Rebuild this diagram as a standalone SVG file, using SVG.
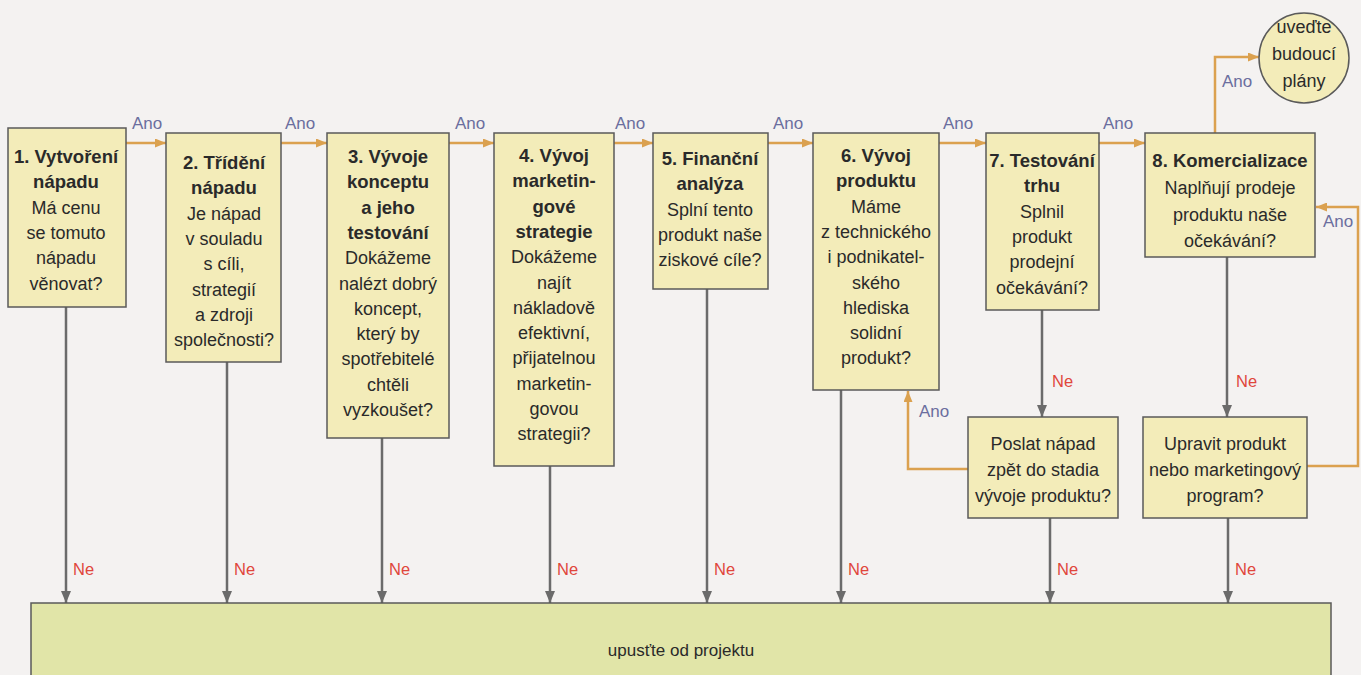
<svg xmlns="http://www.w3.org/2000/svg" width="1361" height="675" viewBox="0 0 1361 675">
<style>
  .box { fill: #f3ecb9; stroke: #5a5a5a; stroke-width: 1.5; }
  .bottom { fill: #e1e5a8; stroke: #5a5a5a; stroke-width: 1.5; }
  .t { font-family: "Liberation Sans", Arial, sans-serif; font-size: 18px; fill: #2a2a2a; text-anchor: middle; }
  .b { font-weight: bold; font-size: 18.5px; }
  .ano { font-family: "Liberation Sans", Arial, sans-serif; font-size: 17px; fill: #6b6e9e; }
  .ne { font-family: "Liberation Sans", Arial, sans-serif; font-size: 16.5px; fill: #e0463c; }
  .yes { fill: none; stroke: #dba14f; stroke-width: 2.5; marker-end: url(#ah-o); }
  .no { fill: none; stroke: #6b6b6b; stroke-width: 2.5; marker-end: url(#ah-g); }
</style>
<defs>
  <marker id="ah-o" markerUnits="userSpaceOnUse" markerWidth="11" markerHeight="9" refX="11" refY="4.5" orient="auto">
    <path d="M0,0 L11,4.5 L0,9 z" fill="#dba14f"/>
  </marker>
  <marker id="ah-g" markerUnits="userSpaceOnUse" markerWidth="12" markerHeight="10" refX="12" refY="5" orient="auto">
    <path d="M0,0 L12,5 L0,10 z" fill="#6b6b6b"/>
  </marker>
</defs>
<rect x="0" y="0" width="1361" height="675" fill="#f4f2f1"/>

<g id="connectors">
  <line class="yes" x1="126" y1="143" x2="166" y2="143"/>
  <line class="yes" x1="281" y1="143" x2="327" y2="143"/>
  <line class="yes" x1="449" y1="143" x2="494" y2="143"/>
  <line class="yes" x1="614" y1="143" x2="653" y2="143"/>
  <line class="yes" x1="768" y1="143" x2="813" y2="143"/>
  <line class="yes" x1="939" y1="143" x2="986" y2="143"/>
  <line class="yes" x1="1099" y1="143" x2="1145" y2="143"/>
  <polyline class="yes" points="1215,133 1215,57 1259,57"/>
  <polyline class="yes" points="968,469 908,469 908,391"/>
  <polyline class="yes" points="1307,466 1358,466 1358,207 1316,207"/>
  <line class="no" x1="66" y1="307" x2="66" y2="603"/>
  <line class="no" x1="227" y1="362" x2="227" y2="603"/>
  <line class="no" x1="382" y1="438" x2="382" y2="603"/>
  <line class="no" x1="550" y1="466" x2="550" y2="603"/>
  <line class="no" x1="707" y1="289" x2="707" y2="603"/>
  <line class="no" x1="841" y1="390" x2="841" y2="603"/>
  <line class="no" x1="1042" y1="310" x2="1042" y2="417"/>
  <line class="no" x1="1227" y1="257" x2="1227" y2="417"/>
  <line class="no" x1="1050" y1="518" x2="1050" y2="603"/>
  <line class="no" x1="1228" y1="518" x2="1228" y2="603"/>
  <text class="ano" x="132" y="129">Ano</text>
  <text class="ano" x="285" y="129">Ano</text>
  <text class="ano" x="455" y="129">Ano</text>
  <text class="ano" x="615" y="129">Ano</text>
  <text class="ano" x="773" y="129">Ano</text>
  <text class="ano" x="943" y="129">Ano</text>
  <text class="ano" x="1103" y="129">Ano</text>
  <text class="ano" x="1222" y="87">Ano</text>
  <text class="ano" x="1323" y="227">Ano</text>
  <text class="ano" x="919" y="417">Ano</text>
  <text class="ne" x="1052" y="387">Ne</text>
  <text class="ne" x="1236" y="387">Ne</text>
  <text class="ne" x="73" y="575">Ne</text>
  <text class="ne" x="234" y="575">Ne</text>
  <text class="ne" x="389" y="575">Ne</text>
  <text class="ne" x="557" y="575">Ne</text>
  <text class="ne" x="714" y="575">Ne</text>
  <text class="ne" x="848" y="575">Ne</text>
  <text class="ne" x="1057" y="575">Ne</text>
  <text class="ne" x="1235" y="575">Ne</text>
</g>

<g id="n1">
  <rect class="box" x="8" y="128" width="118" height="179"/>
  <text class="t" x="66" y="163"><tspan class="b">1. Vytvoření</tspan><tspan class="b" x="66" dy="25.3">nápadu</tspan><tspan x="66" dy="25.3">Má cenu</tspan><tspan x="66" dy="25.3">se tomuto</tspan><tspan x="66" dy="25.3">nápadu</tspan><tspan x="66" dy="25.3">věnovat?</tspan></text>
</g>
<g id="n2">
  <rect class="box" x="166" y="133" width="115" height="229"/>
  <text class="t" x="224" y="169"><tspan class="b">2. Třídění</tspan><tspan class="b" x="224" dy="25.3">nápadu</tspan><tspan x="224" dy="25.3">Je nápad</tspan><tspan x="224" dy="25.3">v souladu</tspan><tspan x="224" dy="25.3">s cíli,</tspan><tspan x="224" dy="25.3">strategií</tspan><tspan x="224" dy="25.3">a zdroji</tspan><tspan x="224" dy="25.3">společnosti?</tspan></text>
</g>
<g id="n3">
  <rect class="box" x="327" y="133" width="122" height="305"/>
  <text class="t" x="388" y="163"><tspan class="b">3. Vývoje</tspan><tspan class="b" x="388" dy="25.3">konceptu</tspan><tspan class="b" x="388" dy="25.3">a jeho</tspan><tspan class="b" x="388" dy="25.3">testování</tspan><tspan x="388" dy="25.3">Dokážeme</tspan><tspan x="388" dy="25.3">nalézt dobrý</tspan><tspan x="388" dy="25.3">koncept,</tspan><tspan x="388" dy="25.3">který by</tspan><tspan x="388" dy="25.3">spotřebitelé</tspan><tspan x="388" dy="25.3">chtěli</tspan><tspan x="388" dy="25.3">vyzkoušet?</tspan></text>
</g>
<g id="n4">
  <rect class="box" x="494" y="133" width="120" height="333"/>
  <text class="t" x="554" y="162"><tspan class="b">4. Vývoj</tspan><tspan class="b" x="554" dy="25.3">marketin-</tspan><tspan class="b" x="554" dy="25.3">gové</tspan><tspan class="b" x="554" dy="25.3">strategie</tspan><tspan x="554" dy="25.3">Dokážeme</tspan><tspan x="554" dy="25.3">najít</tspan><tspan x="554" dy="25.3">nákladově</tspan><tspan x="554" dy="25.3">efektivní,</tspan><tspan x="554" dy="25.3">přijatelnou</tspan><tspan x="554" dy="25.3">marketin-</tspan><tspan x="554" dy="25.3">govou</tspan><tspan x="554" dy="25.3">strategii?</tspan></text>
</g>
<g id="n5">
  <rect class="box" x="653" y="133" width="115" height="156"/>
  <text class="t" x="710" y="165"><tspan class="b">5. Finanční</tspan><tspan class="b" x="710" dy="25.3">analýza</tspan><tspan x="710" dy="25.3">Splní tento</tspan><tspan x="710" dy="25.3">produkt naše</tspan><tspan x="710" dy="25.3">ziskové cíle?</tspan></text>
</g>
<g id="n6">
  <rect class="box" x="813" y="133" width="126" height="257"/>
  <text class="t" x="876" y="162"><tspan class="b">6. Vývoj</tspan><tspan class="b" x="876" dy="25.3">produktu</tspan><tspan x="876" dy="25.3">Máme</tspan><tspan x="876" dy="25.3">z technického</tspan><tspan x="876" dy="25.3">i podnikatel-</tspan><tspan x="876" dy="25.3">ského</tspan><tspan x="876" dy="25.3">hlediska</tspan><tspan x="876" dy="25.3">solidní</tspan><tspan x="876" dy="25.3">produkt?</tspan></text>
</g>
<g id="n7">
  <rect class="box" x="986" y="133" width="113" height="177"/>
  <text class="t" x="1042" y="167"><tspan class="b">7. Testování</tspan><tspan class="b" x="1042" dy="25.3">trhu</tspan><tspan x="1042" dy="25.3">Splnil</tspan><tspan x="1042" dy="25.3">produkt</tspan><tspan x="1042" dy="25.3">prodejní</tspan><tspan x="1042" dy="25.3">očekávání?</tspan></text>
</g>
<g id="n8">
  <rect class="box" x="1145" y="133" width="170" height="124"/>
  <text class="t" x="1230" y="167"><tspan class="b">8. Komercializace</tspan><tspan x="1230" dy="27">Naplňují prodeje</tspan><tspan x="1230" dy="27">produktu naše</tspan><tspan x="1230" dy="26">očekávání?</tspan></text>
</g>
<g id="future">
  <circle class="box" cx="1304" cy="58" r="45"/>
  <text class="t" x="1304" y="33"><tspan>uveďte</tspan><tspan x="1304" dy="27">budoucí</tspan><tspan x="1304" dy="27">plány</tspan></text>
</g>
<g id="resend">
  <rect class="box" x="968" y="417" width="150" height="101"/>
  <text class="t" x="1043" y="450"><tspan>Poslat nápad</tspan><tspan x="1043" dy="26">zpět do stadia</tspan><tspan x="1043" dy="26">vývoje produktu?</tspan></text>
</g>
<g id="modify">
  <rect class="box" x="1143" y="417" width="164" height="101"/>
  <text class="t" x="1225" y="450"><tspan>Upravit produkt</tspan><tspan x="1225" dy="26">nebo marketingový</tspan><tspan x="1225" dy="26">program?</tspan></text>
</g>
<g id="drop">
  <rect class="bottom" x="31" y="603" width="1300" height="90"/>
  <text class="t" x="681" y="656" style="font-size:17px">upusťte od projektu</text>
</g>
</svg>
